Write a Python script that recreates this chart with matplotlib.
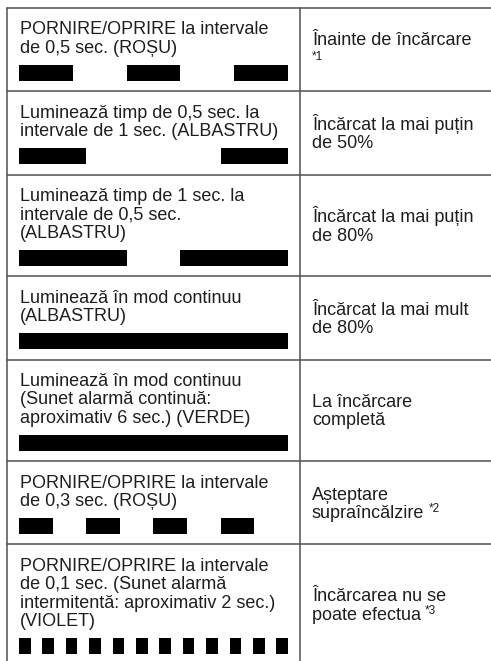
import matplotlib.pyplot as plt

plt.rcParams['font.family'] = ['Liberation Sans', 'DejaVu Sans']

# text of the left column (indicator description)
left_lines = [
    ["PORNIRE/OPRIRE la intervale", "de 0,5 sec. (ROȘU)"],
    ["Luminează timp de 0,5 sec. la", "intervale de 1 sec. (ALBASTRU)"],
    ["Luminează timp de 1 sec. la", "intervale de 0,5 sec.", "(ALBASTRU)"],
    ["Luminează în mod continuu", "(ALBASTRU)"],
    ["Luminează în mod continuu", "(Sunet alarmă continuă:", "aproximativ 6 sec.) (VERDE)"],
    ["PORNIRE/OPRIRE la intervale", "de 0,3 sec. (ROȘU)"],
    ["PORNIRE/OPRIRE la intervale", "de 0,1 sec. (Sunet alarmă",
     "intermitentă: aproximativ 2 sec.)", "(VIOLET)"],
]

# text of the right column (charging state)
right_lines = [
    ["Înainte de încărcare"],
    ["Încărcat la mai puțin", "de 50%"],
    ["Încărcat la mai puțin", "de 80%"],
    ["Încărcat la mai mult", "de 80%"],
    ["La încărcare", "completă"],
    ["Așteptare", "supraîncălzire"],
    ["Încărcarea nu se", "poate efectua"],
]
notes = ["*1", None, None, None, None, "*2", "*3"]
note_inline = [False, False, False, False, False, True, True]

# blink patterns: alternating on/off durations (sec), starting with "on"
blink = [
    [0.5, 0.5, 0.5, 0.5, 0.5],
    [0.5, 1.0, 0.5],
    [1.0, 0.5, 1.0],
    [2.5],
    [2.5],
    [0.3] * 8,
    [0.1] * 23,
]

W, H = 491, 661
fig = plt.figure(figsize=(W / 100, H / 100), dpi=100)
ax = fig.add_axes([0, 0, 1, 1])
ax.set_xlim(0, W)
ax.set_ylim(H, 0)
ax.axis('off')

fs = 13.0
fs_small = 8.5
txt = '#1e1e1e'
grid = '#505050'
x_left, x_div = 7, 300
x_txt, x_rtxt = 20, 312
bar_x0, bar_x1 = 19, 288
lh = 18.3
top = 8

fig.canvas.draw()
rend = fig.canvas.get_renderer()

y = top
bounds = [y]
for i, lines in enumerate(left_lines):
    n = len(lines)
    base0 = y + 26.5
    for k, s in enumerate(lines):
        ax.text(x_txt, base0 + k * lh, s, fontsize=fs, color=txt, va='baseline')
    bar_top = base0 + (n - 1) * lh + 12
    # blink bar
    pat = blink[i]
    scale = (bar_x1 - bar_x0) / sum(pat)
    segs = []
    t = 0
    for j, d in enumerate(pat):
        if j % 2 == 0:
            segs.append((bar_x0 + t * scale, d * scale))
        t += d
    ax.broken_barh(segs, (bar_top, 16), facecolors='black')
    y_end = bar_top + 16 + 10.5
    # right column text, vertically centred
    c = (y + y_end) / 2
    rl = right_lines[i]
    if notes[i] is not None and not note_inline[i]:
        b = c - 4.5
        ax.text(x_rtxt, b, rl[0], fontsize=fs, color=txt, va='baseline')
        ax.text(x_rtxt, b + 15, notes[i], fontsize=fs_small, color=txt, va='baseline')
    else:
        m = len(rl)
        last = None
        for k, s in enumerate(rl):
            b = c + (k - (m - 1) / 2) * lh + 6
            last = ax.text(x_rtxt, b, s, fontsize=fs, color=txt, va='baseline')
        if notes[i] is not None:
            bb = last.get_window_extent(renderer=rend)
            xr = ax.transData.inverted().transform((bb.x1, 0))[0]
            ax.text(xr + 4, b - 6, notes[i], fontsize=fs_small, color=txt, va='baseline')
    y = y_end
    bounds.append(y)

# table lines
for yb in bounds:
    ax.plot([x_left, W + 5], [yb, yb], color=grid, lw=1.1, solid_capstyle='butt')
ax.plot([x_left, x_left], [top, H + 5], color=grid, lw=1.1)
ax.plot([x_div, x_div], [top, H + 5], color=grid, lw=1.1)

fig.savefig('out.png', dpi=100)
